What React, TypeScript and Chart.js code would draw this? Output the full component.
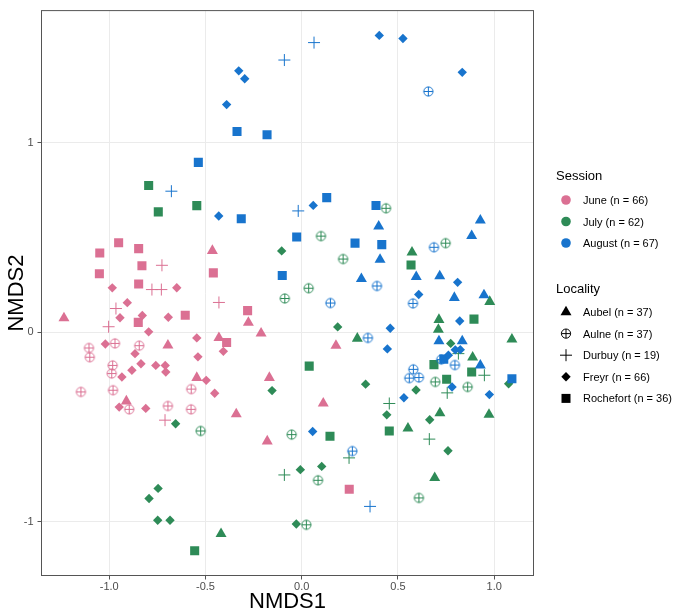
import React, { useEffect, useRef } from "react";
import { Chart, registerables } from "chart.js";

Chart.register(...registerables);

// ---------- labels / categories ----------
const sessionLabels = ["June (n = 66)", "July (n = 62)", "August (n = 67)"];
const sessionColors = ["#DB7093", "#2E8B57", "#1874CD"];
const localityLabels = ["Aubel (n = 37)", "Aulne (n = 37)", "Durbuy (n = 19)", "Freyr (n = 66)", "Rochefort (n = 36)"];
const localityShapes = ["triangle", "aulne", "cross", "diamond", "square"];
const xTicks = [-1, -0.5, 0, 0.5, 1];
const yTicks = [-1, 0, 1];

// ---------- June ----------
const juneAubel = [[-1.235,0.074],[-0.695,-0.069],[-0.545,-0.240],[-0.911,-0.364],[-0.464,0.430],[-0.277,0.051],[-0.211,-0.006],[-0.430,-0.030],[0.178,-0.071],[-0.168,-0.240],[-0.340,-0.432],[0.112,-0.375],[-0.179,-0.575]];
const juneAulne = [[-1.105,-0.083],[-1.101,-0.132],[-0.970,-0.059],[-0.844,-0.071],[-0.982,-0.175],[-0.987,-0.218],[-1.147,-0.315],[-0.980,-0.306],[-0.574,-0.300],[-0.896,-0.407],[-0.695,-0.389],[-0.575,-0.407]];
const juneDurbuy = [[-0.726,0.353],[-0.778,0.225],[-0.729,0.225],[-0.965,0.125],[-1.003,0.029],[-0.430,0.157],[-0.710,-0.464]];
const juneFreyr = [[-0.984,0.234],[-0.649,0.235],[-0.906,0.156],[-0.944,0.076],[-0.828,0.088],[-0.693,0.079],[-0.795,0.002],[-1.020,-0.062],[-0.545,-0.030],[-0.866,-0.113],[-0.539,-0.130],[-0.835,-0.166],[-0.882,-0.201],[-0.758,-0.175],[-0.709,-0.175],[-0.706,-0.210],[-0.934,-0.236],[-0.496,-0.254],[-0.948,-0.395],[-0.810,-0.402],[-0.407,-0.101],[-0.452,-0.322]];
const juneRochefort = [[-0.951,0.472],[-1.049,0.418],[-0.847,0.441],[-0.830,0.351],[-1.051,0.308],[-0.847,0.254],[-0.605,0.090],[-0.849,0.052],[-0.459,0.313],[-0.281,0.114],[-0.390,-0.054],[0.247,-0.828]];

// ---------- July ----------
const julyAubel = [[0.289,-0.033],[0.573,0.422],[0.977,0.161],[0.713,0.066],[0.710,0.014],[1.092,-0.038],[0.888,-0.133],[0.552,-0.507],[0.718,-0.427],[0.973,-0.435],[0.691,-0.768],[-0.419,-1.064]];
const julyAulne = [[-0.525,-0.521],[0.100,0.507],[0.215,0.386],[0.036,0.232],[-0.088,0.178],[0.438,0.654],[0.748,0.470],[0.694,-0.262],[0.862,-0.289],[0.609,-0.874],[-0.052,-0.540],[0.085,-0.781],[0.024,-1.016]];
const julyDurbuy = [[0.814,-0.113],[0.949,-0.227],[0.756,-0.320],[0.455,-0.376],[0.663,-0.564],[0.246,-0.663],[-0.090,-0.753]];
const julyFreyr = [[-0.655,-0.483],[-0.746,-0.824],[-0.793,-0.877],[-0.748,-0.992],[-0.684,-0.992],[-0.104,0.429],[0.187,0.028],[0.332,-0.274],[0.774,-0.059],[1.075,-0.272],[0.594,-0.305],[0.442,-0.436],[0.665,-0.462],[0.760,-0.625],[-0.154,-0.308],[-0.007,-0.725],[0.104,-0.708],[-0.028,-1.012]];
const julyRochefort = [[-0.795,0.774],[-0.745,0.635],[-0.545,0.668],[-0.556,-1.153],[0.039,-0.179],[0.147,-0.549],[0.568,0.355],[0.895,0.069],[0.687,-0.171],[0.753,-0.248],[0.883,-0.210],[0.455,-0.521]];

// ---------- August ----------
const augustAubel = [[0.400,0.559],[0.407,0.383],[0.928,0.590],[0.883,0.509],[0.595,0.292],[0.717,0.296],[0.793,0.182],[0.947,0.196],[0.713,-0.047],[0.834,-0.047],[0.928,-0.175],[0.310,0.282]];
const augustAulne = [[0.658,1.270],[0.149,0.154],[0.344,-0.030],[0.391,0.244],[0.687,0.448],[0.578,0.152],[0.725,-0.144],[0.796,-0.173],[0.580,-0.196],[0.559,-0.242],[0.609,-0.239],[0.263,-0.627]];
const augustDurbuy = [[-0.090,1.436],[0.064,1.528],[-0.677,0.744],[-0.018,0.640],[0.355,-0.919]];
const augustFreyr = [[-0.327,1.379],[-0.296,1.337],[-0.390,1.201],[0.403,1.566],[0.526,1.550],[0.834,1.371],[0.060,0.669],[-0.431,0.613],[0.810,0.263],[0.608,0.199],[0.821,0.059],[0.460,0.021],[0.445,-0.088],[0.798,-0.093],[0.824,-0.092],[0.762,-0.121],[0.057,-0.524],[0.781,-0.289],[0.975,-0.329],[0.531,-0.346]];
const augustRochefort = [[-0.336,1.059],[-0.180,1.042],[-0.537,0.896],[0.130,0.710],[0.386,0.669],[-0.314,0.599],[-0.026,0.502],[0.277,0.470],[-0.101,0.299],[0.416,0.462],[0.738,-0.142],[1.092,-0.246]];

const sessionGroups = [
  [juneAubel, juneAulne, juneDurbuy, juneFreyr, juneRochefort],
  [julyAubel, julyAulne, julyDurbuy, julyFreyr, julyRochefort],
  [augustAubel, augustAulne, augustDurbuy, augustFreyr, augustRochefort],
];

const FONT = '"Liberation Sans", Arial, Helvetica, sans-serif';
const AXIS_DARK = "#555555";

function makeAulneImage(color: string): HTMLCanvasElement {
  const c = document.createElement("canvas");
  c.width = 13;
  c.height = 13;
  const g = c.getContext("2d")!;
  g.strokeStyle = color;
  g.lineWidth = 1;
  g.beginPath();
  g.arc(6.5, 6.5, 4.6, 0, Math.PI * 2);
  g.stroke();
  g.beginPath();
  g.moveTo(6.5, 1.9);
  g.lineTo(6.5, 11.1);
  g.moveTo(1.9, 6.5);
  g.lineTo(11.1, 6.5);
  g.stroke();
  return c;
}

function drawShape(ctx: CanvasRenderingContext2D, shape: string, x: number, y: number, color: string) {
  ctx.save();
  ctx.fillStyle = color;
  ctx.strokeStyle = color;
  ctx.lineWidth = 1;
  ctx.beginPath();
  if (shape === "triangle") {
    const r = 6.35;
    ctx.moveTo(x, y - r);
    ctx.lineTo(x + r * 0.866, y + r / 2);
    ctx.lineTo(x - r * 0.866, y + r / 2);
    ctx.closePath();
    ctx.fill();
  } else if (shape === "square") {
    ctx.rect(x - 4.5, y - 4.5, 9, 9);
    ctx.fill();
  } else if (shape === "diamond") {
    const r = 4.7;
    ctx.moveTo(x, y - r);
    ctx.lineTo(x + r, y);
    ctx.lineTo(x, y + r);
    ctx.lineTo(x - r, y);
    ctx.closePath();
    ctx.fill();
  } else if (shape === "cross") {
    ctx.moveTo(x - 6, y);
    ctx.lineTo(x + 6, y);
    ctx.moveTo(x, y - 6);
    ctx.lineTo(x, y + 6);
    ctx.stroke();
  } else if (shape === "aulne") {
    ctx.arc(x, y, 4.6, 0, Math.PI * 2);
    ctx.stroke();
    ctx.beginPath();
    ctx.moveTo(x - 4.6, y);
    ctx.lineTo(x + 4.6, y);
    ctx.moveTo(x, y - 4.6);
    ctx.lineTo(x, y + 4.6);
    ctx.stroke();
  } else if (shape === "circle") {
    ctx.arc(x, y, 4.8, 0, Math.PI * 2);
    ctx.fill();
  }
  ctx.restore();
}

const legendPlugin = {
  id: "customLegend",
  afterDraw(chart: any) {
    const ctx: CanvasRenderingContext2D = chart.ctx;
    ctx.save();
    ctx.fillStyle = "#000000";
    ctx.textBaseline = "alphabetic";
    ctx.textAlign = "left";
    ctx.font = `13px ${FONT}`;
    ctx.fillText("Session", 556, 180);
    ctx.font = `11px ${FONT}`;
    sessionLabels.forEach((lab, i) => {
      const cy = 200 + i * 21.5;
      drawShape(ctx, "circle", 566, cy, sessionColors[i]);
      ctx.fillStyle = "#000000";
      ctx.fillText(lab, 583, cy + 4);
    });
    ctx.font = `13px ${FONT}`;
    ctx.fillText("Locality", 556, 292.5);
    ctx.font = `11px ${FONT}`;
    localityLabels.forEach((lab, i) => {
      const cy = 312 + i * 21.6;
      drawShape(ctx, localityShapes[i], 566, cy, "#000000");
      ctx.fillStyle = "#000000";
      ctx.fillText(lab, 583, cy + 4);
    });
    ctx.restore();
  },
};

const panelBorder = {
  id: "panelBorder",
  afterDatasetsDraw(chart: any) {
    const { ctx, chartArea: a } = chart;
    ctx.save();
    ctx.strokeStyle = AXIS_DARK;
    ctx.lineWidth = 1;
    ctx.strokeRect(a.left, a.top, a.right - a.left, a.bottom - a.top);
    ctx.restore();
  },
};

export default function App() {
  const ref = useRef<HTMLCanvasElement>(null);

  useEffect(() => {
    const datasets: any[] = [];
    sessionGroups.forEach((groups, si) => {
      const color = sessionColors[si];
      const aulneImg = makeAulneImage(color);
      groups.forEach((pts, li) => {
        const shape = localityShapes[li];
        const ds: any = {
          label: `${sessionLabels[si]} ${localityLabels[li]}`,
          data: pts.map(([x, y]) => ({ x, y })),
          showLine: false,
          order: 2 - si,
          pointBackgroundColor: color,
          pointBorderColor: color,
          pointBorderWidth: 0,
          pointHoverRadius: 0,
        };
        if (shape === "triangle") {
          ds.pointStyle = "triangle";
          ds.pointRadius = 6.35;
        } else if (shape === "square") {
          ds.pointStyle = "rect";
          ds.pointRadius = 6.4;
        } else if (shape === "diamond") {
          ds.pointStyle = "rectRot";
          ds.pointRadius = 4.7;
        } else if (shape === "cross") {
          ds.pointStyle = "cross";
          ds.pointRadius = 6;
          ds.pointBorderWidth = 1;
        } else {
          ds.pointStyle = aulneImg;
          ds.pointRadius = 5;
        }
        datasets.push(ds);
      });
    });

    const chart = new Chart(ref.current!, {
      type: "scatter",
      data: { datasets },
      plugins: [panelBorder, legendPlugin],
      options: {
        animation: false,
        responsive: false,
        events: [],
        layout: { padding: { left: 0, top: 1.5, right: 139.5, bottom: 0 } },
        plugins: {
          legend: { display: false },
          tooltip: { enabled: false },
        },
        scales: {
          x: {
            type: "linear",
            min: -1.3517,
            max: 1.2042,
            afterBuildTicks: (s: any) => {
              s.ticks = xTicks.map((v) => ({ value: v }));
            },
            afterFit: (s: any) => {
              s.height = 37.5;
            },
            ticks: {
              callback: (v: any) => Number(v).toFixed(1),
              color: "#4D4D4D",
              font: { family: FONT, size: 11 },
              padding: 1,
              maxRotation: 0,
              autoSkip: false,
            },
            grid: { color: "#EBEBEB", lineWidth: 1, tickLength: 4, tickColor: AXIS_DARK, drawTicks: true },
            border: { display: false },
            title: {
              display: true,
              text: "NMDS1",
              color: "#000000",
              font: { family: FONT, size: 22, lineHeight: 1 },
              padding: { top: 0, bottom: 0 },
            },
          },
          y: {
            type: "linear",
            min: -1.2835,
            max: 1.6968,
            afterBuildTicks: (s: any) => {
              s.ticks = yTicks.map((v) => ({ value: v }));
            },
            afterFit: (s: any) => {
              s.width = 41.5;
            },
            ticks: {
              callback: (v: any) => String(v),
              color: "#4D4D4D",
              font: { family: FONT, size: 11 },
              padding: 4,
              autoSkip: false,
            },
            grid: { color: "#EBEBEB", lineWidth: 1, tickLength: 4, tickColor: AXIS_DARK, drawTicks: true },
            border: { display: false },
            title: {
              display: true,
              text: "NMDS2",
              color: "#000000",
              font: { family: FONT, size: 22, lineHeight: 1 },
              padding: { top: 6, bottom: 0 },
            },
          },
        },
      },
    });
    return () => chart.destroy();
  }, []);

  return (
    <div style={{ position: "fixed", left: 0, top: 0, width: 673, height: 613, background: "#ffffff" }}>
      <canvas ref={ref} width={673} height={613} style={{ display: "block", width: 673, height: 613 }} />
    </div>
  );
}
